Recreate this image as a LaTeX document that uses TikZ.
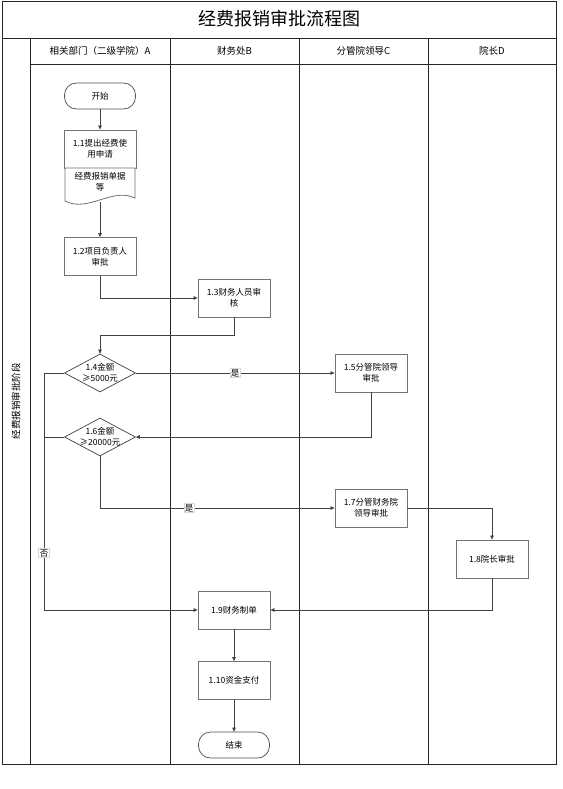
\documentclass[tikz,border=0pt]{standalone}
\usepackage{fontspec}
\setmainfont{Noto Sans CJK SC}
\usetikzlibrary{shapes.geometric,arrows.meta}
\begin{document}
\begin{tikzpicture}[x=1pt,y=-1pt,
  font=\fontsize{8.5}{11}\selectfont,
  frame/.style={draw=black!85, line width=0.8pt},
  proc/.style={draw=black!55, line width=0.8pt, fill=white, minimum width=72pt, minimum height=38pt, align=center, inner sep=1pt},
  term/.style={draw=black!70, line width=0.7pt, fill=white, rounded corners=12pt, minimum width=71pt, minimum height=26pt, inner sep=1pt},
  dec/.style={diamond, draw=black!75, line width=0.7pt, fill=white, minimum width=71pt, minimum height=38pt, inner sep=0pt},
  conn/.style={draw=black!75, line width=0.7pt, -{Triangle[length=4pt,width=3.5pt]}},
  plain/.style={draw=black!75, line width=0.7pt},
  yn/.style={fill=white, draw=black!15, inner sep=1pt},
  txt/.style={align=center, inner sep=0pt},
  head/.style={align=center, inner sep=0pt, font=\fontsize{9.5}{11}\selectfont}
]
\useasboundingbox (0,0) rectangle (562,789);
% frame
\draw[frame] (2,1) rectangle (556,764);
\draw[frame] (2,38) -- (556,38);
\draw[frame] (30,64) -- (556,64);
\draw[frame] (30,38) -- (30,764);
\draw[frame] (170,38) -- (170,764);
\draw[frame] (299,38) -- (299,764);
\draw[frame] (428,38) -- (428,764);
% title and headers
\node[txt, font=\fontsize{18}{20}\selectfont] (title) at (279,19) {经费报销审批流程图};
\node[head] (hA) at (100,51) {相关部门（二级学院）A};
\node[head] (hB) at (234.5,51) {财务处B};
\node[head] (hC) at (363.5,51) {分管院领导C};
\node[head] (hD) at (492,51) {院长D};
\node[head, rotate=90] (stage) at (16,401) {经费报销审批阶段};
% nodes
\node[term] (start) at (100,96) {开始};
\node[proc] (n11) at (100,149) {1.1提出经费使\\用申请};
\draw[draw=black!55, line width=0.8pt, fill=white] (65,168) -- (135,168) -- (135,198) .. controls (112,187) and (88,213) .. (65,201) -- cycle;
\node[txt] (n11d) at (100,182) {经费报销单据\\等};
\coordinate (n11b) at (100,202);
\node[proc] (n12) at (100,256.5) {1.2项目负责人\\审批};
\node[proc] (n13) at (234,298) {1.3财务人员审\\核};
\node[dec] (n14) at (100,373) {};
\node[txt] (n14t) at (100,373) {1.4金额\\≥5000元};
\node[proc] (n15) at (371,373) {1.5分管院领导\\审批};
\node[dec] (n16) at (100,437) {};
\node[txt] (n16t) at (100,437) {1.6金额\\≥20000元};
\node[proc] (n17) at (371,508) {1.7分管财务院\\领导审批};
\node[proc] (n18) at (492,559) {1.8院长审批};
\node[proc] (n19) at (234,610) {1.9财务制单};
\node[proc] (n110) at (234,680.5) {1.10资金支付};
\node[term] (end) at (234,745) {结束};
\coordinate (nx) at (44,610);
% connectors
\draw[conn] (start.south) -- (n11.north);
\draw[conn] (n11b) -- (n12.north);
\draw[conn] (n12.south) |- (n13.west);
\draw[conn] (n13.south) -- (n13.south |- 0,335) -| (n14.north);
\draw[conn] (n14.east) -- node[yn] (y1) {是} (n15.west);
\draw[conn] (n15.south) |- (n16.east);
\draw[conn] (n16.south) |- node[yn, pos=0.69] (y2) {是} (n17.west);
\draw[conn] (n17.east) -| (n18.north);
\draw[conn] (n18.south) |- (n19.east);
\draw[conn] (n14.west) -| node[yn, pos=0.88] (no) {否} (nx) -- (n19.west);
\draw[plain] (n16.west) -- (n16.west -| nx);
\draw[conn] (n19.south) -- (n110.north);
\draw[conn] (n110.south) -- (end.north);
\end{tikzpicture}
\end{document}
